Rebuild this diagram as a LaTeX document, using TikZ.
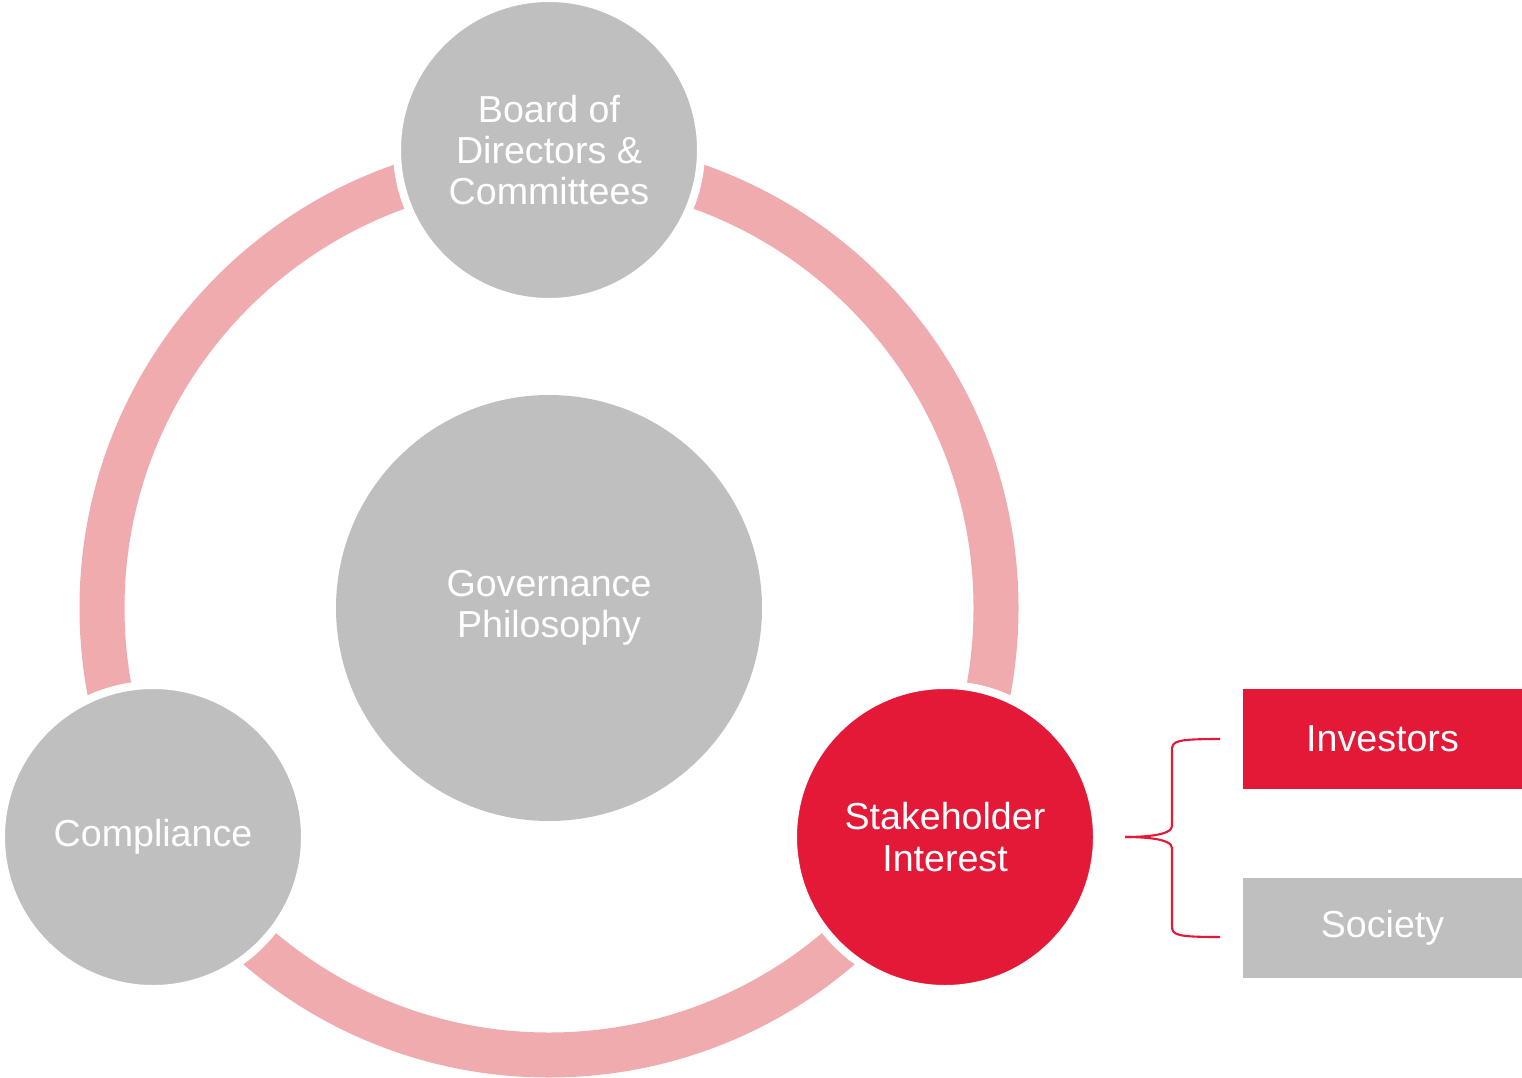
\documentclass[tikz,border=0pt]{standalone}
\usepackage{fontspec}
\setmainfont{Liberation Sans}
\usetikzlibrary{positioning}
\definecolor{govgray}{HTML}{BFBFBF}
\definecolor{govred}{HTML}{E31937}
\definecolor{govpink}{HTML}{F0ABAE}

\begin{document}
\begin{tikzpicture}[semithick,
  ring/.style={draw=govpink,line width=0.45cm},
  pillar/.style={circle,fill=govgray,draw=white,line width=0.08cm,minimum size=3.04cm,inner sep=0pt,align=center,text=white,font=\fontsize{10.7}{11.7}\selectfont},
  hubnode/.style={circle,fill=govgray,minimum size=4.26cm,inner sep=0pt,align=center,text=white,font=\fontsize{10.7}{11.7}\selectfont},
  tag/.style={rectangle,fill=govgray,minimum width=2.79cm,minimum height=1.0cm,inner sep=0pt,text=white,font=\fontsize{10.7}{11.7}\selectfont},
  bracket/.style={draw=govred,line width=0.6pt}]
\useasboundingbox (0,0) rectangle (15.22,-10.77);

\coordinate (hub) at (5.49,-6.08);
\draw[ring] (hub) circle (4.47);

\node[hubnode](gov) at (hub){Governance\\Philosophy};
\node[pillar](board) at (5.49,-1.50){Board of\\Directors \&\\Committees};
\node[pillar](comp) at (1.53,-8.37){Compliance};
\node[pillar,fill=govred](stake) at (9.45,-8.37){Stakeholder\\Interest};

\node[tag,fill=govred](inv) at (13.825,-7.39){Investors};
\node[tag](soc) at (13.825,-9.275){Society};

\coordinate (btop) at (12.20,-7.39);
\coordinate (bbot) at (12.20,-9.37);
\coordinate (btip) at (11.25,-8.37);
\draw[bracket] (btop) .. controls (11.76,-7.39) and (11.72,-7.41) .. (11.72,-7.50)
  -- (11.72,-8.26) .. controls (11.72,-8.36) and (11.40,-8.37) .. (btip);
\draw[bracket] (bbot) .. controls (11.76,-9.37) and (11.72,-9.35) .. (11.72,-9.26)
  -- (11.72,-8.48) .. controls (11.72,-8.38) and (11.40,-8.37) .. (btip);

\end{tikzpicture}
\end{document}
